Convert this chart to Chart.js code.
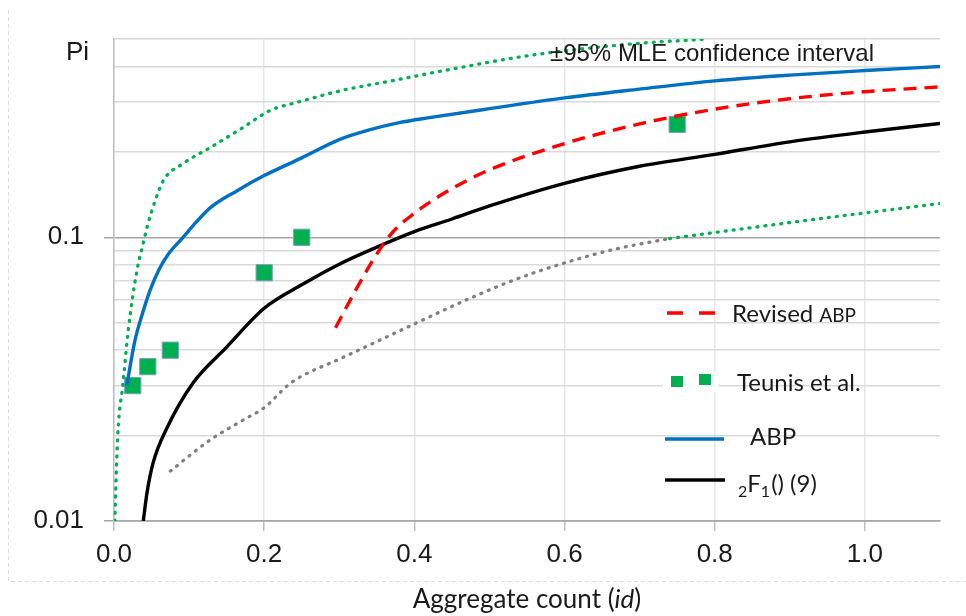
<!DOCTYPE html>
<html lang="en">
<head>
<meta charset="UTF-8">
<title>Pi vs aggregate count</title>
<script src="https://cdn.jsdelivr.net/npm/chart.js"></script>
<style>
  body { margin: 0; background: #fff; }
  #wrap { width: 966px; height: 616px; }
</style>
</head>
<body>
<div id="wrap"><canvas id="piChart" width="966" height="616"></canvas></div>
<script>
// values
const xTicks = [0, 0.2, 0.4, 0.6, 0.8, 1.0];
const yGrid = [0.01, 0.02, 0.03, 0.04, 0.05, 0.06, 0.07, 0.08, 0.09, 0.1, 0.2, 0.3, 0.4, 0.5];
const yLabels = [0.01, 0.1];

// Teunis et al. points
const teunisX = [0.025, 0.045, 0.075, 0.2, 0.25, 0.75];
const teunisY = [0.03, 0.035, 0.04, 0.075, 0.1, 0.25];

// ABP
const abpX = [0.017, 0.028, 0.038, 0.048, 0.06, 0.072, 0.092, 0.11, 0.128, 0.164, 0.2, 0.25, 0.3, 0.34, 0.38, 0.42, 0.5, 0.6, 0.7, 0.8, 0.9, 1.0, 1.1];
const abpY = [0.03, 0.0434, 0.054, 0.065, 0.077, 0.087, 0.1, 0.1135, 0.127, 0.146, 0.165, 0.1905, 0.221, 0.239, 0.2535, 0.264, 0.284, 0.31, 0.333, 0.356, 0.373, 0.387, 0.4];

// Revised ABP
const revX = [0.295, 0.32, 0.345, 0.37, 0.4, 0.43, 0.47, 0.5, 0.6, 0.7, 0.8, 0.9, 1.0, 1.1];
const revY = [0.048, 0.0638, 0.0832, 0.1035, 0.1216, 0.138, 0.1585, 0.173, 0.214, 0.251, 0.283, 0.308, 0.326, 0.339];

// 2F1() (9)
const f21X = [0.039, 0.044, 0.052, 0.071, 0.105, 0.15, 0.2, 0.25, 0.3, 0.35, 0.4, 0.45, 0.5, 0.6, 0.7, 0.8, 0.9, 1.0, 1.1];
const f21Y = [0.01, 0.0126, 0.016, 0.0214, 0.0306, 0.041, 0.0562, 0.068, 0.0804, 0.0923, 0.1047, 0.116, 0.129, 0.155, 0.178, 0.196, 0.217, 0.235, 0.252];

// 95% MLE confidence interval
const upperX = [0.001, 0.005, 0.012, 0.019, 0.03, 0.039, 0.045, 0.055, 0.066, 0.092, 0.128, 0.172, 0.208, 0.244, 0.305, 0.372, 0.435, 0.555, 0.688, 0.79];
const upperY = [0.01, 0.02, 0.0306, 0.047, 0.075, 0.0955, 0.111, 0.135, 0.159, 0.182, 0.207, 0.244, 0.28, 0.299, 0.33, 0.357, 0.385, 0.438, 0.48, 0.5];
const lowerGrayX = [0.075, 0.128, 0.172, 0.201, 0.231, 0.248, 0.3, 0.35, 0.4, 0.47, 0.537, 0.604, 0.67, 0.74];
const lowerGrayY = [0.015, 0.0193, 0.0227, 0.0252, 0.03, 0.0322, 0.0372, 0.0429, 0.0495, 0.0603, 0.0714, 0.0818, 0.0912, 0.099];
const lowerGreenX = [0.74, 0.92, 1.1];
const lowerGreenY = [0.099, 0.1145, 0.1316];

const pts = (xs, ys) => xs.map((x, i) => ({ x: x, y: ys[i] }));

const SANS = "'Liberation Sans', Arial, sans-serif";
const LEG = "Lato, 'Open Sans', sans-serif";

const lineBase = { pointRadius: 0, fill: false, tension: 0.4, cubicInterpolationMode: 'monotone' };
const dotted = { borderWidth: 3.3, borderDash: [1, 7], borderCapStyle: 'round' };

const datasets = [
  Object.assign({ label: 'ABP', data: pts(abpX, abpY), borderColor: '#0070c0', borderWidth: 3.4 }, lineBase),
  Object.assign({ label: 'Revised ABP', data: pts(revX, revY), borderColor: '#ff0000', borderWidth: 3.4, borderDash: [13, 8] }, lineBase),
  Object.assign({ label: '2F1() (9)', data: pts(f21X, f21Y), borderColor: '#000000', borderWidth: 3.4 }, lineBase),
  Object.assign({ label: 'upper', data: pts(upperX, upperY), borderColor: '#00b050' }, dotted, lineBase),
  Object.assign({ label: 'lower', data: pts(lowerGrayX, lowerGrayY), borderColor: '#808080' }, dotted, lineBase),
  Object.assign({ label: 'lower2', data: pts(lowerGreenX, lowerGreenY), borderColor: '#00b050' }, dotted, lineBase),
  {
    label: 'Teunis et al.', data: pts(teunisX, teunisY), showLine: false,
    pointStyle: 'rect', pointRadius: 11.5, pointHoverRadius: 11.5,
    backgroundColor: '#00b050', borderColor: '#7f9fc8', borderWidth: 1
  }
];

// text, legend and frame drawn by hand
const extras = {
  id: 'extras',
  afterDraw(chart) {
    const c = chart.ctx;
    c.save();
    // dashed frame
    c.strokeStyle = '#d5dde6';
    c.lineWidth = 1;
    c.setLineDash([4, 3]);
    c.beginPath();
    c.moveTo(8.5, 10); c.lineTo(8.5, 581.5); c.lineTo(966, 581.5);
    c.stroke();
    c.setLineDash([]);

    c.fillStyle = '#1a1a1a';
    c.textBaseline = 'alphabetic';
    c.textAlign = 'left';
    c.font = '26px ' + SANS;
    c.fillText('Pi', 66, 60);
    c.font = '24px ' + SANS;
    c.fillText('\u00b195% MLE confidence interval', 550, 61);

    // legend
    c.lineWidth = 3.4;
    c.strokeStyle = '#ff0000';
    c.setLineDash([16, 16]);
    c.beginPath(); c.moveTo(667, 313); c.lineTo(716, 313); c.stroke();
    c.setLineDash([]);
    c.font = '24px ' + LEG;
    c.fillText('Revised', 732, 322);
    let w = c.measureText('Revised ').width;
    c.font = '19px ' + LEG;
    c.fillText('ABP', 732 + w, 322);

    c.fillStyle = '#ffffff';
    c.fillRect(663, 372, 56, 20);
    c.fillStyle = '#00b050';
    c.fillRect(671, 376, 12, 11);
    c.fillRect(699, 374, 12, 11);
    c.fillStyle = '#1a1a1a';
    c.font = '24px ' + LEG;
    c.fillText('Teunis et al.', 737, 391);

    c.strokeStyle = '#0070c0';
    c.beginPath(); c.moveTo(665, 439); c.lineTo(724, 439); c.stroke();
    c.fillText('ABP', 750, 445);

    c.strokeStyle = '#000000';
    c.beginPath(); c.moveTo(665, 480); c.lineTo(725, 480); c.stroke();
    let x = 738;
    c.font = '16px ' + LEG;
    c.fillText('2', x, 497);
    x += c.measureText('2').width;
    c.font = '24px ' + LEG;
    c.fillText('F', x, 492);
    x += c.measureText('F').width;
    c.font = '16px ' + LEG;
    c.fillText('1', x, 497);
    x += c.measureText('1').width + 1;
    c.font = '24px ' + LEG;
    c.fillText('() (9)', x, 492);

    // x axis title with italic id
    const mid = (chart.chartArea.left + chart.chartArea.right) / 2;
    c.font = '26px ' + LEG;
    const a = 'Aggregate count (';
    const wa = c.measureText(a).width;
    const wc = c.measureText(')').width;
    c.font = 'italic 26px ' + LEG;
    const wb = c.measureText('id').width;
    let sx = mid - (wa + wb + wc) / 2;
    c.font = '26px ' + LEG;
    c.fillText(a, sx, 608);
    c.font = 'italic 26px ' + LEG;
    c.fillText('id', sx + wa, 608);
    c.font = '26px ' + LEG;
    c.fillText(')', sx + wa + wb, 608);
    c.restore();
  }
};

const ctx = document.getElementById('piChart').getContext('2d');
const chart = new Chart(ctx, {
  type: 'line',
  data: { datasets: datasets },
  options: {
    responsive: false,
    animation: false,
    layout: { padding: { top: 39, right: 26, left: 0, bottom: 0 } },
    plugins: { legend: { display: false }, tooltip: { enabled: false } },
    scales: {
      x: {
        type: 'linear', min: 0, max: 1.1,
        afterBuildTicks: s => { s.ticks = xTicks.map(v => ({ value: v })); },
        afterFit: s => { s.height = 95; },
        grid: { color: '#e6e6e6', lineWidth: 1.5, tickLength: 10, tickColor: '#bfbfbf' },
        border: { color: '#a6a6a6', width: 1.5 },
        ticks: {
          padding: 8, color: '#1a1a1a', font: { family: SANS, size: 26 },
          callback: v => v.toFixed(1)
        }
      },
      y: {
        type: 'logarithmic', min: 0.01, max: 0.5,
        afterBuildTicks: s => { s.ticks = yGrid.map(v => ({ value: v })); },
        afterFit: s => { s.width = 114; },
        grid: {
          color: c => (yLabels.includes(c.tick.value) ? '#a6a6a6' : '#d9d9d9'),
          lineWidth: 1.5,
          tickLength: 10,
          tickColor: c => (yLabels.includes(c.tick.value) ? '#a6a6a6' : 'rgba(0,0,0,0)')
        },
        border: { color: '#bfbfbf', width: 1.5 },
        ticks: {
          padding: 20, color: '#1a1a1a', font: { family: SANS, size: 26 },
          autoSkip: false,
          callback: v => (yLabels.includes(v) ? String(v) : '')
        }
      }
    }
  },
  plugins: [extras]
});
</script>
</body>
</html>
